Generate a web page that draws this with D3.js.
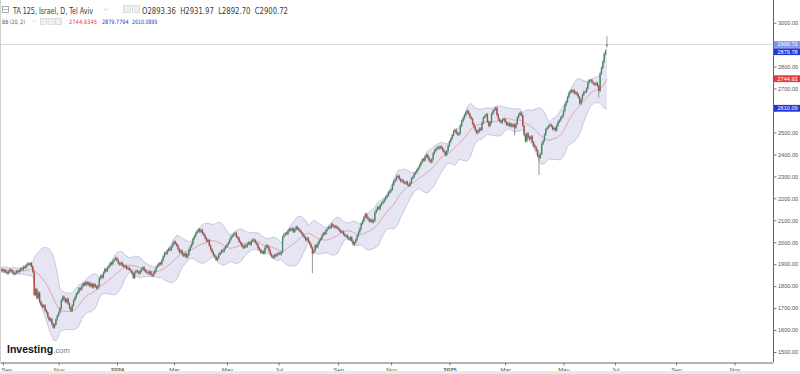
<!DOCTYPE html>
<html>
<head>
<meta charset="utf-8">
<script src="https://cdn.jsdelivr.net/npm/d3@7"></script>
<style>
  body { margin: 0; background: #fff; }
  svg { display: block; }
</style>
</head>
<body>
<svg id="chart" width="800" height="374"></svg>
<script>
// daily closes, TA 125, one array per month
var aug23 = [1884,1880,1885,1878,1872,1880,1889,1884,1876,1870,1868,1875,1882,1879,1871,1866,1873,1880,1877,1869,1872,1876];
var sep23 = [1868,1872,1864,1858,1866,1875,1870,1862,1855,1860,1868,1864,1872,1880,1876,1888,1884,1896,1902];
var oct23 = [1898,1904,1890,1865,1760,1785,1745,1770,1728,1715,1705,1712,1690,1680,1660,1645,1650,1628,1612,1625,1648,1665];
var nov23 = [1680,1700,1735,1752,1740,1728,1742,1720,1700,1688,1712,1735,1748,1765,1772,1790,1785,1800,1812,1805,1818,1808];
var dec23 = [1815,1800,1810,1795,1808,1798,1790,1802,1835,1848,1840,1862,1878,1870,1885,1892,1905,1900,1915,1922,1928];
var jan24 = [1918,1905,1898,1906,1895,1888,1892,1880,1884,1875,1870,1858,1838,1862,1870,1866,1858,1868,1878,1885,1872,1866];
var feb24 = [1862,1858,1865,1852,1848,1860,1872,1888,1895,1905,1900,1918,1935,1952,1948,1962,1970,1965,1980,1992];
var mar24 = [2002,1994,1985,1968,1955,1962,1945,1938,1948,1932,1942,1965,1980,1992,2015,2028,2042,2050,2058,2048,2055];
var apr24 = [2040,2032,2018,2005,2010,1985,1968,1955,1942,1935,1920,1928,1945,1952,1962,1958,1972,1980];
var may24 = [1988,1998,2012,2025,2030,2038,2042,2025,2018,2002,1995,1982,1975,1985,1980,1992,1998,1990,2005,2012];
var jun24 = [2008,1998,1990,1972,1965,1952,1958,1950,1975,1985,1978,1962,1945,1935,1930,1942,1938,1948];
var jul24 = [1950,1945,1955,2025,2035,2042,2038,2052,2060,2055,2062,2048,2058,2070,2062,2055,2048,2040,2030,2022,2010,2018,2002];
var aug24 = [1990,1975,1950,1962,1985,1978,1995,2008,2015,2030,2042,2038,2055,2062,2070,2066,2082,2075,2068,2072,2065];
var sep24 = [2060,2052,2045,2048,2035,2028,2030,2018,2012,2022,2005,1990,1998,2012,2030,2048,2062,2085,2098,2115];
var oct24 = [2128,2112,2105,2095,2102,2092,2098,2135,2148,2160,2152,2170,2178,2185,2195,2205,2212,2225,2232];
var nov24 = [2240,2262,2278,2285,2298,2302,2288,2278,2282,2272,2268,2275,2262,2258,2272,2290,2298,2312,2318,2330,2340];
var dec24 = [2352,2365,2378,2372,2390,2398,2385,2372,2365,2378,2405,2418,2425,2432,2428,2436,2430,2418,2410,2398,2415,2440];
var jan25 = [2458,2472,2488,2505,2512,2498,2490,2495,2530,2552,2565,2578,2590,2598,2585,2570,2562,2540,2525,2510,2498];
var feb25 = [2505,2518,2512,2545,2568,2575,2582,2548,2530,2545,2585,2598,2605,2612,2580,2560,2552,2545,2558,2562];
var mar25 = [2548,2535,2542,2530,2538,2528,2535,2522,2540,2568,2582,2590,2578,2530,2488,2460,2495,2478,2470,2482,2455,2440];
var apr25 = [2432,2418,2395,2385,2402,2448,2462,2490,2515,2522,2530,2535,2528,2515,2520,2510,2532,2548,2555,2568,2575];
var may25 = [2598,2625,2640,2662,2680,2690,2685,2692,2678,2682,2672,2660,2632,2648,2672,2685,2685,2700,2728,2738];
var jun25 = [2738,2728,2722,2718,2725,2712,2690,2768,2795,2822,2858,2872,2900.72];

var monthKeys = ["2023-08","2023-09","2023-10","2023-11","2023-12","2024-01","2024-02","2024-03","2024-04","2024-05","2024-06",
                 "2024-07","2024-08","2024-09","2024-10","2024-11","2024-12","2025-01","2025-02","2025-03","2025-04","2025-05","2025-06"];
var monthCloses = [aug23,sep23,oct23,nov23,dec23,jan24,feb24,mar24,apr24,may24,jun24,
                   jul24,aug24,sep24,oct24,nov24,dec24,jan25,feb25,mar25,apr25,may25,jun25];

// trading sessions of the empty months on the right of the chart
var futureKeys = ["2025-07","2025-08","2025-09","2025-10","2025-11"];
var futureDays = [23, 22, 21, 22, 22];
var june25Days = 18;

// long lower shadows: [month, session of month, low]
var lowSpikes = [["2024-08", 2, 1865], ["2025-03", 7, 2492], ["2025-04", 3, 2312], ["2025-06", 6, 2665]];

var lastOHLC = [2893.36, 2931.97, 2892.70, 2900.72];
var bbLast = [2744.9345, 2879.7794, 2610.0895];   // basis, upper, lower
var yTicks = d3.range(1500, 3001, 100);
var xTickMonths = ["2023-09","2023-11","2024-01","2024-03","2024-05","2024-07","2024-09","2024-11",
                   "2025-01","2025-03","2025-05","2025-07","2025-09","2025-11"];
var monthNames = ["Jan","Feb","Mar","Apr","May","Jun","Jul","Aug","Sep","Oct","Nov","Dec"];

var svg = d3.select("#chart"),
    plotW = 773,
    plotH = 362,
    font = "DejaVu Sans",
    axisFont = "Liberation Sans";

// ---- build the bars on a session index (0 = first session of Sep 2023)
var bars = [], monthStart = {}, idx = -aug23.length;
monthKeys.forEach(function(k, m) {
  monthStart[k] = idx;
  monthCloses[m].forEach(function(c, d) {
    bars.push({i: idx, m: k, d: d, c: c});
    idx++;
  });
});
var nextStart = monthStart["2025-06"] + june25Days;
futureKeys.forEach(function(k, j) {
  monthStart[k] = nextStart;
  nextStart += futureDays[j];
});

bars.forEach(function(b, j) {
  b.o = j ? bars[j - 1].c : b.c;
  b.h = Math.max(b.o, b.c);
  b.l = Math.min(b.o, b.c);
});
var last = bars[bars.length - 1];
last.o = lastOHLC[0]; last.h = lastOHLC[1]; last.l = lastOHLC[2]; last.c = lastOHLC[3];
lowSpikes.forEach(function(s) {
  var b = bars.find(function(e) { return e.m === s[0] && e.d === s[1]; });
  if (b) b.l = Math.min(b.l, s[2]);
});

// Bollinger bands (20, 2) from the closes
var bb = [];
bars.forEach(function(b, j) {
  if (j < 19) return;
  var win = bars.slice(j - 19, j + 1).map(function(e) { return e.c; });
  var mean = d3.mean(win);
  var sd = Math.sqrt(d3.mean(win, function(v) { return (v - mean) * (v - mean); }));
  bb.push({i: b.i, mid: mean, up: mean + 2 * sd, lo: mean - 2 * sd});
});

// ---- scales
var x = d3.scaleLinear().domain([-2.2, 567.4]).range([0, plotW]);
var y = d3.scaleLinear().domain([1500, 3000]).range([352, 22.7]);

svg.append("defs").append("clipPath").attr("id", "plot")
  .append("rect").attr("x", 0).attr("y", 0).attr("width", plotW).attr("height", plotH);

var g = svg.append("g").attr("clip-path", "url(#plot)");

// band
g.append("path")
    .datum(bb)
    .attr("fill", "#e5e5f3")
    .attr("stroke", "none")
    .attr("d", d3.area().x(function(d) { return x(d.i); }).y0(function(d) { return y(d.lo); }).y1(function(d) { return y(d.up); }));
["up", "lo"].forEach(function(k) {
  g.append("path")
      .datum(bb)
      .attr("fill", "none")
      .attr("stroke", "#a9a9cc")
      .attr("stroke-width", 0.6)
      .attr("d", d3.line().x(function(d) { return x(d.i); }).y(function(d) { return y(d[k]); }));
});
g.append("path")
    .datum(bb)
    .attr("fill", "none")
    .attr("stroke", "#e07a7a")
    .attr("stroke-width", 0.6)
    .attr("d", d3.line().x(function(d) { return x(d.i); }).y(function(d) { return y(d.mid); }));

// last price line
g.append("line")
    .attr("x1", 0).attr("x2", plotW)
    .attr("y1", y(lastOHLC[3])).attr("y2", y(lastOHLC[3]))
    .attr("stroke", "#d9dce6").attr("stroke-width", 1);

// candles
var up = "#3e8c60", down = "#b5433d";
var candle = g.selectAll(".candle").data(bars).enter().append("g").attr("class", "candle");
candle.append("line")
    .attr("x1", function(d) { return x(d.i); })
    .attr("x2", function(d) { return x(d.i); })
    .attr("y1", function(d) { return y(d.h) - 1.3; })
    .attr("y2", function(d) { return y(d.l) + 1.3; })
    .attr("stroke", "#505050")
    .attr("stroke-width", 0.6);
candle.append("rect")
    .attr("x", function(d) { return x(d.i) - 0.65; })
    .attr("width", 1.3)
    .attr("y", function(d) { return y(Math.max(d.o, d.c)); })
    .attr("height", function(d) { return Math.max(0.8, Math.abs(y(d.o) - y(d.c))); })
    .attr("fill", function(d) { return d.c >= d.o ? up : down; });

// ---- frame and axes
svg.append("line").attr("x1", 0.5).attr("x2", 0.5).attr("y1", 0).attr("y2", plotH)
    .attr("stroke", "#d0d0d0");
svg.append("line").attr("x1", plotW + 0.5).attr("x2", plotW + 0.5).attr("y1", 0).attr("y2", plotH)
    .attr("stroke", "#666").attr("stroke-width", 1);

// price tags on the right axis (drawn over the axis labels they cover)
var tags = [
  {v: lastOHLC[3], c: "#7f97e6"},
  {v: bbLast[1], c: "#2438d6"},
  {v: bbLast[0], c: "#e23b3b"},
  {v: bbLast[2], c: "#2438d6"}
];
var prevY = -99;
tags.forEach(function(d) {
  d.y = Math.max(y(d.v), prevY + 7.2);
  prevY = d.y;
});

var yAxis = d3.axisRight(y).tickValues(yTicks).tickFormat(d3.format(".2f")).tickSize(3).tickSizeOuter(0);
svg.append("g")
    .attr("transform", "translate(" + (plotW + 0.5) + ",0)")
    .call(yAxis)
    .call(function(a) {
      a.select(".domain").remove();
      a.selectAll(".tick line").attr("stroke", "#777");
      a.selectAll(".tick text").attr("x", 4.5).attr("fill", "#555")
        .attr("font-family", axisFont).attr("font-size", 5.6);
      a.selectAll(".tick").filter(function(v) {
        return tags.some(function(t) { return Math.abs(t.y - y(v)) < 6; });
      }).select("text").remove();
    });

var xAxis = d3.axisBottom(x)
    .tickValues(xTickMonths.map(function(k) { return monthStart[k]; }))
    .tickFormat(function(v, n) {
      var k = xTickMonths[n], mo = +k.slice(5, 7);
      return mo === 1 ? k.slice(0, 4) : monthNames[mo - 1];
    })
    .tickSize(3).tickSizeOuter(0);
svg.append("g")
    .attr("transform", "translate(0," + (plotH + 0.5) + ")")
    .call(xAxis)
    .call(function(a) {
      a.select(".domain").attr("stroke", "#666");
      a.selectAll(".tick line").attr("stroke", "#777");
      a.selectAll(".tick text").attr("y", 5).attr("fill", "#555")
        .attr("font-family", axisFont).attr("font-size", 6)
        .attr("font-weight", function(v, n) { return xTickMonths[n].slice(5) === "01" ? "bold" : "normal"; });
      a.selectAll(".tick text").filter(function(v, n) { return n === 0; })
        .attr("text-anchor", "start").attr("x", -2);
    });

svg.append("rect").attr("x", 0).attr("y", 371).attr("width", 800).attr("height", 3).attr("fill", "#e8e8e8");

var tag = svg.selectAll(".tag").data(tags).enter().append("g").attr("class", "tag");
tag.append("rect")
    .attr("x", plotW + 1).attr("width", 800 - plotW - 1)
    .attr("y", function(d) { return d.y - 3.4; }).attr("height", 6.8)
    .attr("fill", function(d) { return d.c; });
tag.append("text")
    .attr("x", plotW + 4.5).attr("y", function(d) { return d.y + 2; })
    .attr("fill", "#fff").attr("font-family", axisFont).attr("font-size", 5.6)
    .text(function(d) { return d3.format(".2f")(d.v); });

// ---- header
var hdr = svg.append("g").attr("font-family", font);
hdr.append("rect").attr("x", 2.5).attr("y", 6.5).attr("width", 6).attr("height", 6)
    .attr("fill", "none").attr("stroke", "#999").attr("stroke-width", 0.8);
hdr.append("line").attr("x1", 2.5).attr("x2", 8.5).attr("y1", 9.5).attr("y2", 9.5).attr("stroke", "#999").attr("stroke-width", 0.6);
hdr.append("text").attr("x", 13).attr("y", 14).attr("font-size", 9).attr("fill", "#3a3a3a")
    .attr("textLength", 80).attr("lengthAdjust", "spacingAndGlyphs")
    .text("TA 125, Israel, D, Tel Aviv");
hdr.append("path").attr("d", "M104,8.5 l2,2 l2,-2").attr("fill", "none").attr("stroke", "#bbb").attr("stroke-width", 0.8);
[123, 132].forEach(function(bx) {
  hdr.append("rect").attr("x", bx + 0.5).attr("y", 5.5).attr("width", 7).attr("height", 7)
      .attr("fill", "#eee").attr("stroke", "#ccc").attr("stroke-width", 0.6);
});
hdr.append("text").attr("x", 142).attr("y", 14).attr("font-size", 9).attr("fill", "#3a3a3a")
    .attr("textLength", 146).attr("lengthAdjust", "spacingAndGlyphs")
    .attr("xml:space", "preserve")
    .text("O" + lastOHLC[0].toFixed(2) + "  H" + lastOHLC[1].toFixed(2) + "  L" + lastOHLC[2].toFixed(2) + "  C" + lastOHLC[3].toFixed(2));

hdr.append("text").attr("x", 2).attr("y", 24).attr("font-size", 6).attr("fill", "#555")
    .attr("textLength", 23).attr("lengthAdjust", "spacingAndGlyphs")
    .text("BB (20, 2)");
hdr.append("path").attr("d", "M33,20.5 l1.5,1.5 l1.5,-1.5").attr("fill", "none").attr("stroke", "#bbb").attr("stroke-width", 0.7);
[40, 47.5, 55].forEach(function(bx) {
  hdr.append("rect").attr("x", bx + 0.5).attr("y", 18.5).attr("width", 6).attr("height", 6)
      .attr("fill", "#eee").attr("stroke", "#ccc").attr("stroke-width", 0.6);
});
var bbCols = ["#e23b3b", "#2438d6", "#2438d6"], bbX = [69, 102, 132], bbW = [28, 26.5, 25.5];
bbLast.forEach(function(v, k) {
  hdr.append("text").attr("x", bbX[k]).attr("y", 24).attr("font-size", 6).attr("fill", bbCols[k])
      .attr("textLength", bbW[k]).attr("lengthAdjust", "spacingAndGlyphs")
      .text(v.toFixed(4));
});

// logo
svg.append("text").attr("x", 7).attr("y", 352.5).attr("font-family", axisFont)
    .attr("font-size", 10.5).attr("font-weight", "bold").attr("fill", "#111").text("Investing");
svg.append("text").attr("x", 53.5).attr("y", 352.5).attr("font-family", axisFont)
    .attr("font-size", 7.5).attr("fill", "#777").text(".com");
</script>
</body>
</html>
